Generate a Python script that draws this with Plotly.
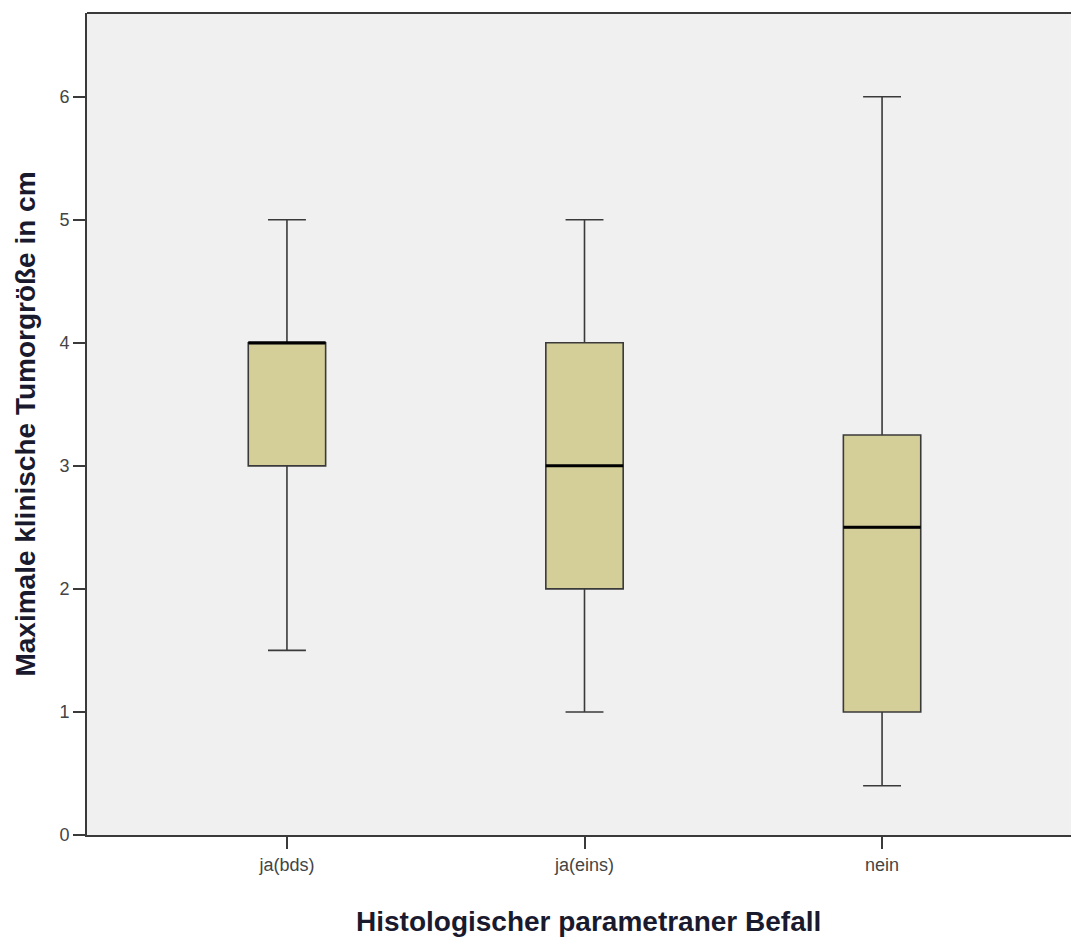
import plotly.graph_objects as go

categories = ["ja(bds)", "ja(eins)", "nein"]
lower_whisker = [1.5, 1.0, 0.4]
q1 = [3.0, 2.0, 1.0]
median = [4.0, 3.0, 2.5]
q3 = [4.0, 4.0, 3.25]
upper_whisker = [5.0, 5.0, 6.0]
y_ticks = [0, 1, 2, 3, 4, 5, 6]

fig = go.Figure()
fig.add_trace(go.Box(
    x=categories, q1=q1, median=median, q3=q3,
    lowerfence=lower_whisker, upperfence=upper_whisker,
    fillcolor="#D4CF99", line=dict(color="#3a3a3a", width=1.6),
    width=0.26, whiskerwidth=0.49, boxpoints=False, hoverinfo="skip",
    showlegend=False,
))
# thick median line overlay
fig.add_trace(go.Box(
    x=categories, q1=median, median=median, q3=median,
    lowerfence=median, upperfence=median,
    fillcolor="rgba(0,0,0,0)", line=dict(color="#000000", width=3),
    width=0.26, whiskerwidth=0, boxpoints=False, hoverinfo="skip",
    showlegend=False,
))

fig.update_layout(
    width=1071, height=940,
    margin=dict(l=87, r=0, t=13, b=105),
    paper_bgcolor="white", plot_bgcolor="#F0F0F0",
    font=dict(family="Arial, Liberation Sans", color="#444444", size=18),
    showlegend=False,
    boxmode="overlay",
)
fig.update_xaxes(
    type="category", range=[-0.672, 2.635],
    showgrid=False, zeroline=False,
    showline=True, linecolor="#3a3a3a", linewidth=2,
    ticks="outside", ticklen=12, tickwidth=2, tickcolor="#3a3a3a",
    tickfont=dict(size=18, color="#444444"),
)
fig.update_yaxes(
    range=[0, 6.68], tickvals=y_ticks,
    showgrid=False, zeroline=False,
    showline=True, linecolor="#3a3a3a", linewidth=2,
    ticks="outside", ticklen=12, tickwidth=2, tickcolor="#3a3a3a",
    tickfont=dict(size=18, color="#444444"),
    title=dict(text="<b>Maximale klinische Tumorgröße in cm</b>",
               font=dict(size=28, color="#1a1a2e"), standoff=16),
)
fig.add_annotation(
    text="<b>Histologischer parametraner Befall</b>",
    xref="paper", yref="paper", x=0.51, y=-0.105,
    xanchor="center", yanchor="middle", showarrow=False,
    font=dict(size=28, color="#1a1a2e"),
)
fig.add_shape(type="line", xref="paper", yref="paper", x0=0, x1=1, y0=1, y1=1,
              line=dict(color="#3a3a3a", width=2))

fig.write_html("out.html")
